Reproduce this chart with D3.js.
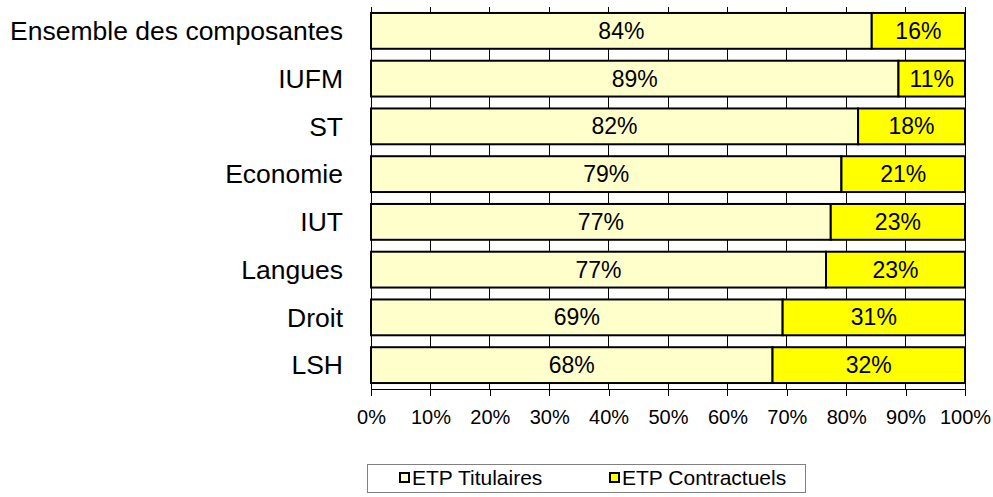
<!DOCTYPE html>
<html>
<head>
<meta charset="utf-8">
<script src="https://cdn.jsdelivr.net/npm/d3@7"></script>
<style>
  body { margin: 0; background: #fff; }
  svg { display: block; font-family: "Liberation Sans", Arial, sans-serif; }
</style>
</head>
<body>
<svg id="chart"></svg>
<script>
const categories = ["Ensemble des composantes", "IUFM", "ST", "Economie", "IUT", "Langues", "Droit", "LSH"];
const titulaires = [84.3, 88.8, 82.0, 79.2, 77.4, 76.6, 69.3, 67.6];
const contractuels = [15.7, 11.2, 18.0, 20.8, 22.6, 23.4, 30.7, 32.4];
const ticks = [0, 10, 20, 30, 40, 50, 60, 70, 80, 90, 100];
const seriesNames = ["ETP Titulaires", "ETP Contractuels"];
const colors = ["#FFFFCC", "#FFFF00"];

const w = 993, h = 497;
const svg = d3.select("#chart").attr("width", w).attr("height", h);

const plotLeft = 371, plotRight = 965, plotTop = 7, plotBottom = 389;

const x = d3.scaleLinear().domain([0, 100]).range([plotLeft, plotRight]);
const y = d3.scaleBand().domain(categories).range([plotTop, plotBottom])
  .paddingInner(0.25).paddingOuter(0.125);

// gridlines
svg.append("g")
  .selectAll("line")
  .data(ticks.slice(1))
  .join("line")
  .attr("x1", d => x(d)).attr("x2", d => x(d))
  .attr("y1", plotTop).attr("y2", plotBottom)
  .attr("stroke", "#000").attr("stroke-width", 1)
  .attr("shape-rendering", "crispEdges");

// bottom axis
const xAxis = d3.axisBottom(x).tickValues(ticks).tickSize(7).tickPadding(14)
  .tickFormat(d => d + "%");
const gx = svg.append("g").attr("transform", `translate(0, ${plotBottom})`).call(xAxis);
gx.select(".domain").attr("stroke", "#000").attr("shape-rendering", "crispEdges");
gx.selectAll(".tick line").attr("stroke", "#000").attr("shape-rendering", "crispEdges");
gx.selectAll(".tick text").attr("font-size", 20).attr("fill", "#000")
  .attr("font-family", "Liberation Sans, Arial, sans-serif");

// left axis line
svg.append("line")
  .attr("x1", plotLeft).attr("x2", plotLeft).attr("y1", plotTop).attr("y2", plotBottom)
  .attr("stroke", "#000").attr("shape-rendering", "crispEdges");

// category labels
svg.append("g")
  .selectAll("text")
  .data(categories)
  .join("text")
  .attr("x", 343)
  .attr("y", d => y(d) + y.bandwidth() / 2)
  .attr("dy", "0.35em")
  .attr("text-anchor", "end")
  .attr("font-size", 26.5)
  .text(d => d);

// stacked bars
const rows = categories.map((c, i) => ({cat: c, vals: [titulaires[i], contractuels[i]]}));
rows.forEach(r => {
  let acc = 0;
  r.vals.forEach((v, j) => {
    const x0 = x(acc), x1 = x(acc + v);
    svg.append("rect")
      .attr("x", x0).attr("y", y(r.cat))
      .attr("width", x1 - x0).attr("height", y.bandwidth())
      .attr("fill", colors[j]).attr("stroke", "#000").attr("stroke-width", 2);
    svg.append("text")
      .attr("x", (x0 + x1) / 2)
      .attr("y", y(r.cat) + y.bandwidth() / 2)
      .attr("dy", "0.35em")
      .attr("text-anchor", "middle")
      .attr("font-size", 23)
      .text(Math.round(v) + "%");
    acc += v;
  });
});

// legend
const lg = svg.append("g");
lg.append("rect")
  .attr("x", 367.5).attr("y", 464.5).attr("width", 438).attr("height", 28)
  .attr("fill", "#fff").attr("stroke", "#808080").attr("stroke-width", 1);
const legX = [400, 610];
seriesNames.forEach((n, i) => {
  lg.append("rect")
    .attr("x", legX[i]).attr("y", 473).attr("width", 9).attr("height", 9)
    .attr("fill", colors[i]).attr("stroke", "#000").attr("stroke-width", 2);
  lg.append("text")
    .attr("x", legX[i] + 12).attr("y", 478).attr("dy", "0.35em")
    .attr("font-size", 21).text(n);
});
</script>
</body>
</html>
